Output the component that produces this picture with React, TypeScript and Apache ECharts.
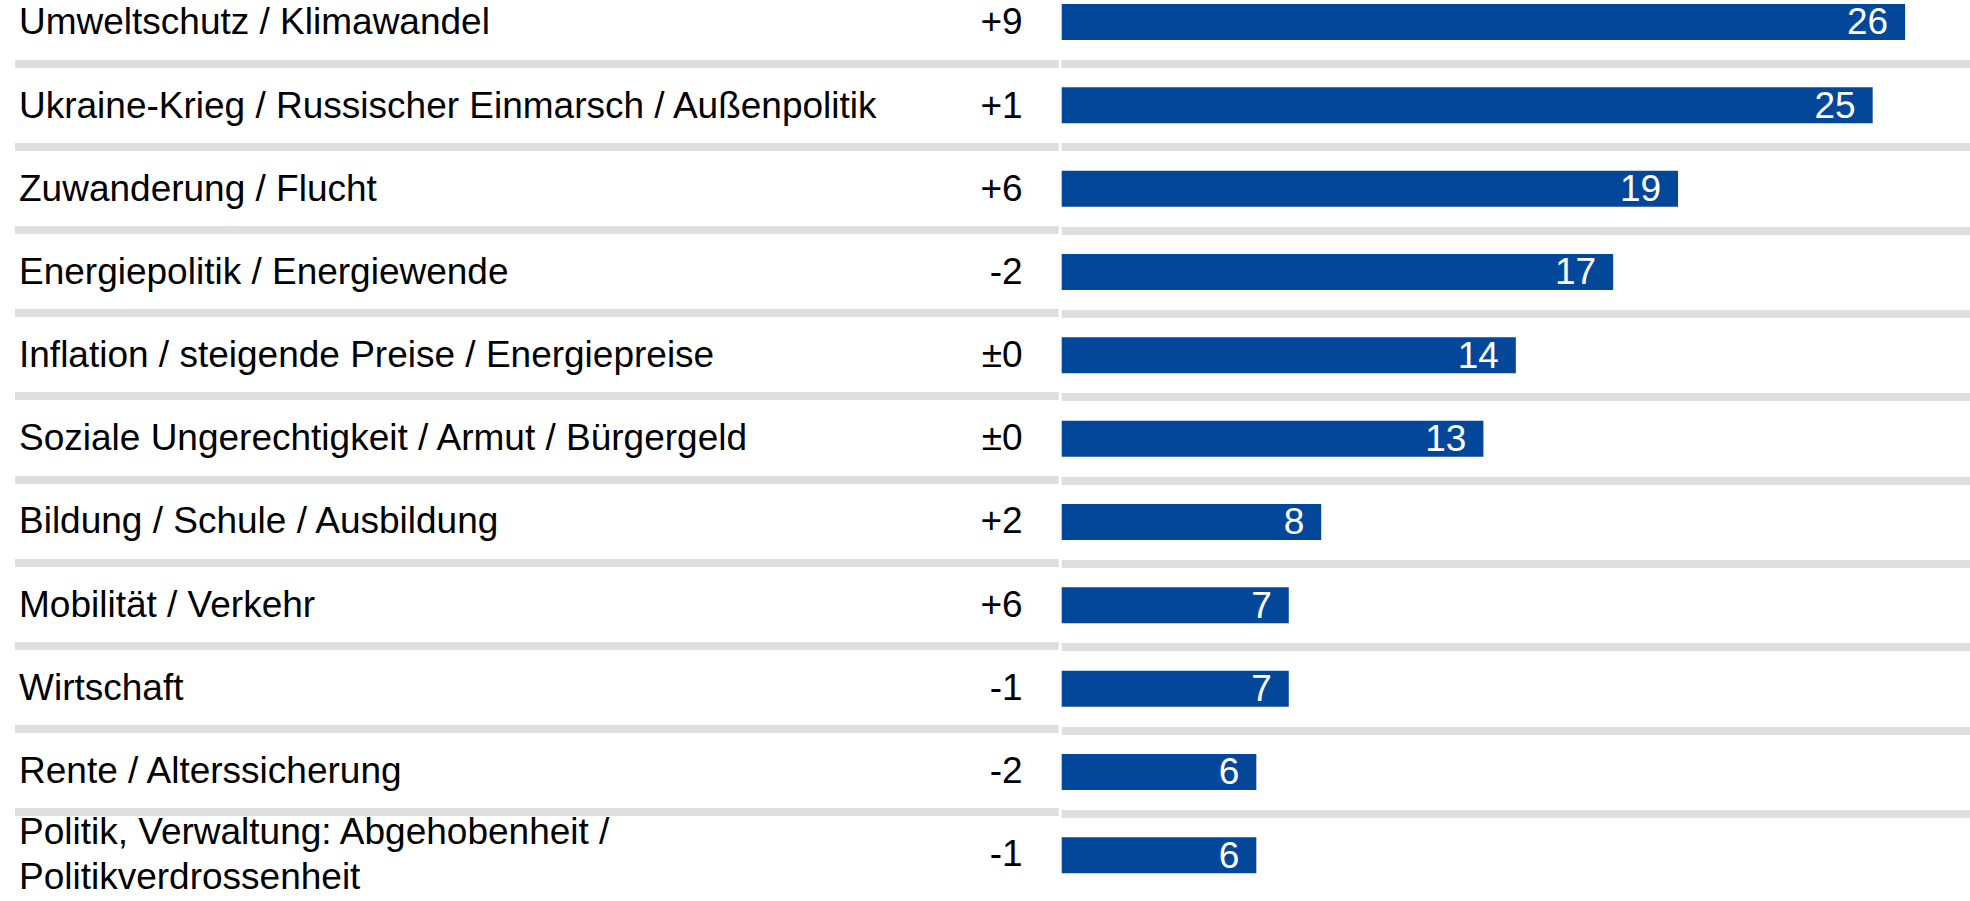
import React, { useEffect, useRef } from "react";
import * as echarts from "echarts";

const categories = [
  "Umweltschutz / Klimawandel",
  "Ukraine-Krieg / Russischer Einmarsch / Außenpolitik",
  "Zuwanderung / Flucht",
  "Energiepolitik / Energiewende",
  "Inflation / steigende Preise / Energiepreise",
  "Soziale Ungerechtigkeit / Armut / Bürgergeld",
  "Bildung / Schule / Ausbildung",
  "Mobilität / Verkehr",
  "Wirtschaft",
  "Rente / Alterssicherung",
  "Politik, Verwaltung: Abgehobenheit /\nPolitikverdrossenheit",
];
const values = [26, 25, 19, 17, 14, 13, 8, 7, 7, 6, 6];
const changes = ["+9", "+1", "+6", "-2", "±0", "±0", "+2", "+6", "-1", "-2", "-1"];

const FONT = "'Liberation Sans', Arial, sans-serif";
const BAR_COLOR = "#03479b";
const SEP_COLOR = "#dedede";

export default function App() {
  const ref = useRef<HTMLDivElement>(null);
  useEffect(() => {
    if (!ref.current) return;
    const chart = echarts.init(ref.current, undefined, { renderer: "svg" });
    const top = 0.33;
    const height = 916.67;
    const sep = {
      show: true,
      showMinLine: false,
      showMaxLine: false,
      lineStyle: { color: SEP_COLOR, width: 8 },
    };
    chart.setOption({
      animation: false,
      backgroundColor: "#ffffff",
      grid: [
        { left: 15, width: 1043.7, top, height },
        { left: 1061.7, width: 911.4, top, height },
      ],
      xAxis: [
        { type: "value", gridIndex: 0, min: 0, max: 1, show: false },
        { type: "value", gridIndex: 1, min: 0, max: 28, show: false },
      ],
      yAxis: [
        {
          type: "category",
          gridIndex: 0,
          data: categories,
          inverse: true,
          position: "left",
          axisLine: { show: false },
          axisTick: { show: false },
          splitLine: sep,
          axisLabel: {
            inside: true,
            align: "left",
            margin: 4,
            color: "#000000",
            fontFamily: FONT,
            fontSize: 37,
            lineHeight: 45,
            padding: [5, 0, 0, 0],
          },
        },
        {
          type: "category",
          gridIndex: 0,
          data: changes,
          inverse: true,
          position: "right",
          axisLine: { show: false },
          axisTick: { show: false },
          splitLine: { show: false },
          axisLabel: {
            inside: true,
            align: "right",
            margin: 36,
            color: "#000000",
            fontFamily: FONT,
            fontSize: 37,
            padding: [5, 0, 0, 0],
          },
        },
        {
          type: "category",
          gridIndex: 1,
          data: categories,
          inverse: true,
          axisLine: { show: false },
          axisTick: { show: false },
          axisLabel: { show: false },
          splitLine: sep,
        },
      ],
      series: [
        {
          type: "bar",
          xAxisIndex: 1,
          yAxisIndex: 2,
          data: values,
          barWidth: 36,
          itemStyle: { color: BAR_COLOR },
          label: {
            show: true,
            position: "insideRight",
            distance: 17,
            color: "#ffffff",
            fontFamily: FONT,
            fontSize: 37,
            padding: [2, 0, 0, 0],
          },
        },
      ],
    });
    return () => chart.dispose();
  }, []);
  return (
    <div
      ref={ref}
      style={{ position: "absolute", left: 0, top: -20, width: 1970, height: 921 }}
    />
  );
}
